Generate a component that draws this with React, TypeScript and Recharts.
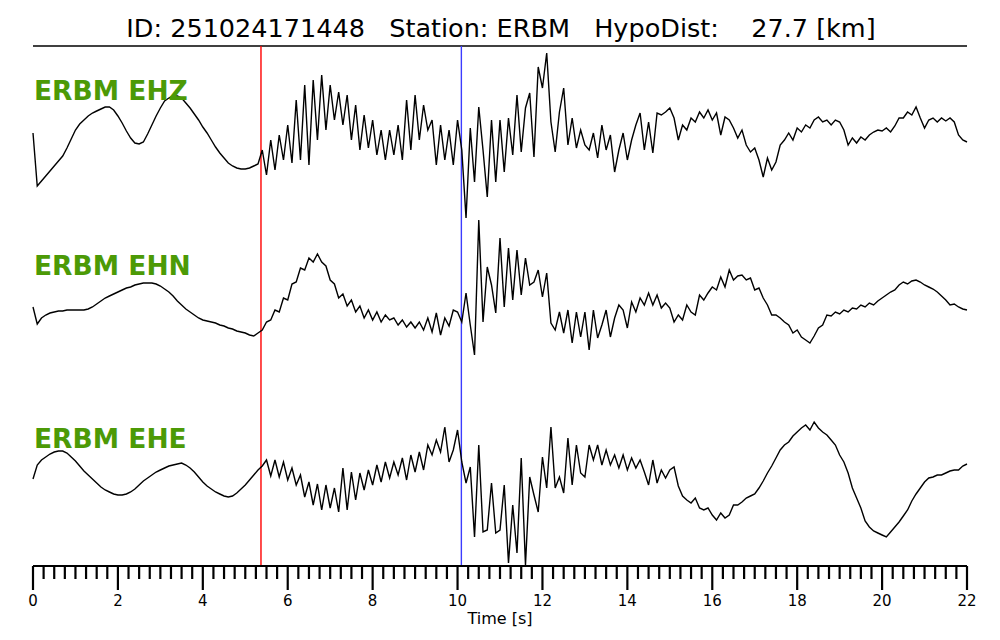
import { LineChart, Line, XAxis, YAxis, ReferenceLine } from "recharts";

const eventId = "251024171448";
const station = "ERBM";
const hypoDist = "27.7";

// seconds between samples
const sampleStep = 0.1;

// amplitudes (one row = one second)
const ehz = [
  2, -51, -46, -41, -36, -31, -26, -21, -13, -4,
  5, 11, 15, 19, 22, 24, 26, 28, 28, 25,
  19, 12, 4, -3, -8, -9, -7, 1, 10, 19,
  27, 34, 37, 39, 39, 37, 32, 27, 21, 15,
  8, 2, -5, -12, -18, -23, -28, -31, -33, -34,
  -34, -33, -31, -29, -15, -40, -5, -35, 0, -25,
  10, -28, 35, -25, 50, -30, 55, -5, 60, 5,
  50, 15, 43, 10, 40, -5, 30, -15, 20, -13,
  15, -20, 5, -25, 5, -20, 10, -25, 35, -15,
  40, -5, 30, 5, 15, -30, 10, -25, 5, -30,
  15, -15, -83, 7, -47, 28, -15, -62, 15, -47,
  15, -37, 17, -20, 40, -17, 27, 42, -22, 68,
  47, 82, 13, -17, 23, 47, -10, 17, -13, 5,
  -10, -15, 2, -23, 10, -15, 0, -37, -15, 2,
  -25, -5, 10, 22, -15, 13, -18, 22, 20, 23,
  27, 17, -5, 10, 5, 17, 13, 23, 17, 25,
  15, 22, 0, 18, 15, 7, -3, 5, -10, -17,
  -13, -25, -42, -23, -35, -27, -10, -5, 2, -5,
  7, 3, 10, 7, 15, 18, 13, 15, 10, 15,
  13, 5, -10, -3, -8, -2, -5, 0, 3, 5,
  4, 7, 3, 9, 17, 17, 23, 20, 28, 17,
  7, 15, 17, 13, 17, 14, 17, 13, 0, -5,
  -7,
];

const ehn = [
  -7, -24, -18, -15, -13, -12, -11, -11, -10, -10,
  -10, -10, -10, -9, -7, -4, -1, 2, 4, 6,
  8, 10, 12, 13, 15, 16, 17, 17, 17, 16,
  14, 11, 8, 4, -1, -5, -9, -12, -15, -18,
  -20, -21, -22, -23, -25, -26, -28, -29, -31, -32,
  -33, -35, -36, -33, -30, -22, -20, -10, -12, 2,
  0, 16, 18, 32, 30, 42, 38, 46, 38, 34,
  20, 16, 2, 6, -6, 0, -12, -6, -18, -10,
  -20, -12, -22, -15, -20, -18, -25, -20, -27, -22,
  -28, -22, -30, -18, -32, -13, -35, -18, -26, -10,
  -12, -22, 7, -25, -55, 80, -22, 33, 15, -13,
  62, -7, 52, 0, 50, 5, 42, 15, 18, 30,
  3, 27, -23, -30, -12, -33, -10, -43, -12, -37,
  -12, -50, -10, -38, -25, -10, -37, -18, -5, -10,
  -28, -2, -12, 2, -5, 7, -5, 5, -8, -3,
  -8, -22, -15, -20, -5, -12, -15, 5, 0, 7,
  13, 10, 23, 13, 30, 20, 24, 25, 20, 22,
  10, 12, 2, -5, -15, -15, -18, -22, -25, -33,
  -30, -37, -40, -43, -36, -28, -25, -15, -16, -12,
  -14, -10, -12, -8, -9, -5, -7, -3, -5, -1,
  2, 5, 8, 10, 15, 18, 16, 19, 20, 18,
  15, 13, 11, 8, 4, 0, -5, -4, -7, -9,
  -10,
];

const ehe = [
  1, 15, 20, 23, 26, 28, 29, 29, 27, 23,
  19, 14, 9, 5, 1, -3, -7, -10, -12, -14,
  -15, -15, -14, -12, -9, -5, -1, 2, 5, 8,
  10, 12, 14, 15, 16, 17, 15, 12, 8, 3,
  -2, -6, -9, -12, -14, -16, -17, -16, -13, -9,
  -5, 0, 5, 10, 14, 20, 4, 20, 3, 18,
  0, 12, -5, 5, -17, -2, -25, -4, -30, -5,
  -28, -8, -32, 12, -30, 8, -20, 7, -10, 10,
  -5, 15, -2, 18, 2, 18, 5, 22, 0, 25,
  8, 28, 10, 35, 25, 40, 28, 53, 18, 30,
  50, 18, -3, 13, -57, 35, -52, -50, -3, -53,
  -50, -5, -83, -25, -73, 22, -85, 3, -15, -32,
  23, -8, 53, -8, 3, -13, 42, -5, 35, 7,
  3, 35, 20, 35, 15, 30, 15, 25, 12, 25,
  10, 22, 12, 20, 8, -5, 20, -3, 10, 2,
  10, 13, -6, -16, -20, -23, -18, -28, -30, -28,
  -35, -40, -33, -38, -35, -25, -25, -22, -18, -16,
  -14, -8, -1, 7, 14, 22, 30, 35, 38, 44,
  48, 52, 55, 50, 58, 52, 48, 45, 40, 35,
  25, 18, 7, -8, -18, -28, -41, -47, -51, -53,
  -55, -57, -52, -47, -42, -36, -30, -21, -14, -8,
  -2, 2, 3, 5, 5, 7, 9, 10, 10, 14,
  16,
];

const channels = ["EHZ", "EHN", "EHE"];
const pPick = 5.37;
const sPick = 10.09;
const majorTicks = [0, 2, 4, 6, 8, 10, 12, 14, 16, 18, 20, 22];

// where each trace sits on the stacked y scale
const traceBase = [431, 266, 86];
const labelBaseline = [100, 275, 448];

const rows = ehz.map((v, i) => ({
  t: Math.round(i * sampleStep * 10) / 10,
  z: v + traceBase[0],
  n: ehn[i] + traceBase[1],
  e: ehe[i] + traceBase[2],
}));

const allTicks: number[] = [];
majorTicks.forEach((m, i) => {
  allTicks.push(m);
  if (i < majorTicks.length - 1) {
    for (let k = 1; k < 8; k++) allTicks.push(m + k * 0.25);
  }
});

const font = "DejaVu Sans";

const TimeTick = (props: any) => {
  const { x, y, payload } = props;
  const major = majorTicks.includes(payload.value);
  return (
    <g>
      <line x1={x} y1={y} x2={x} y2={y + (major ? 24 : 13)} stroke="#000" strokeWidth={2.2} />
      {major && (
        <text x={x} y={y + 40} textAnchor="middle" fontSize={15} fontFamily={font} fill="#000">
          {payload.value}
        </text>
      )}
    </g>
  );
};

export default function App() {
  const title = `ID: ${eventId}   Station: ${station}   HypoDist:    ${hypoDist} [km]`;
  return (
    <div style={{ position: "absolute", left: 0, top: 0, width: 1000, height: 640, background: "#fff" }}>
      <LineChart width={1000} height={640} data={rows} margin={{ top: 46, right: 33, bottom: 0, left: 33 }}>
        <XAxis
          dataKey="t"
          type="number"
          domain={[0, 22]}
          ticks={allTicks}
          interval={0}
          height={74}
          tickSize={0}
          tickMargin={0}
          tickLine={false}
          axisLine={{ stroke: "#000", strokeWidth: 2 }}
          tick={<TimeTick />}
          label={{ value: "Time [s]", position: "insideBottom", offset: 16, fontSize: 16, fontFamily: font, fill: "#000" }}
        />
        <YAxis hide type="number" domain={[0, 520]} />
        <ReferenceLine y={520} stroke="#000" strokeWidth={1.5} />
        <ReferenceLine x={pPick} stroke="#ff0000" strokeWidth={1.4} />
        <ReferenceLine x={sPick} stroke="#3c3cff" strokeWidth={1.4} />
        <Line dataKey="z" type="linear" stroke="#000" strokeWidth={1.4} dot={false} isAnimationActive={false} />
        <Line dataKey="n" type="linear" stroke="#000" strokeWidth={1.4} dot={false} isAnimationActive={false} />
        <Line dataKey="e" type="linear" stroke="#000" strokeWidth={1.4} dot={false} isAnimationActive={false} />
      </LineChart>
      <svg width={1000} height={640} style={{ position: "absolute", left: 0, top: 0, pointerEvents: "none" }}>
        <text x={501} y={37} textAnchor="middle" fontSize={25.5} fontFamily={font} fill="#000" style={{ whiteSpace: "pre" }}>
          {title}
        </text>
        {channels.map((c, i) => (
          <text key={c} x={34} y={labelBaseline[i]} fontSize={26.5} fontWeight="bold" fontFamily={font} fill="#4c9a06">
            {`${station} ${c}`}
          </text>
        ))}
      </svg>
    </div>
  );
}
